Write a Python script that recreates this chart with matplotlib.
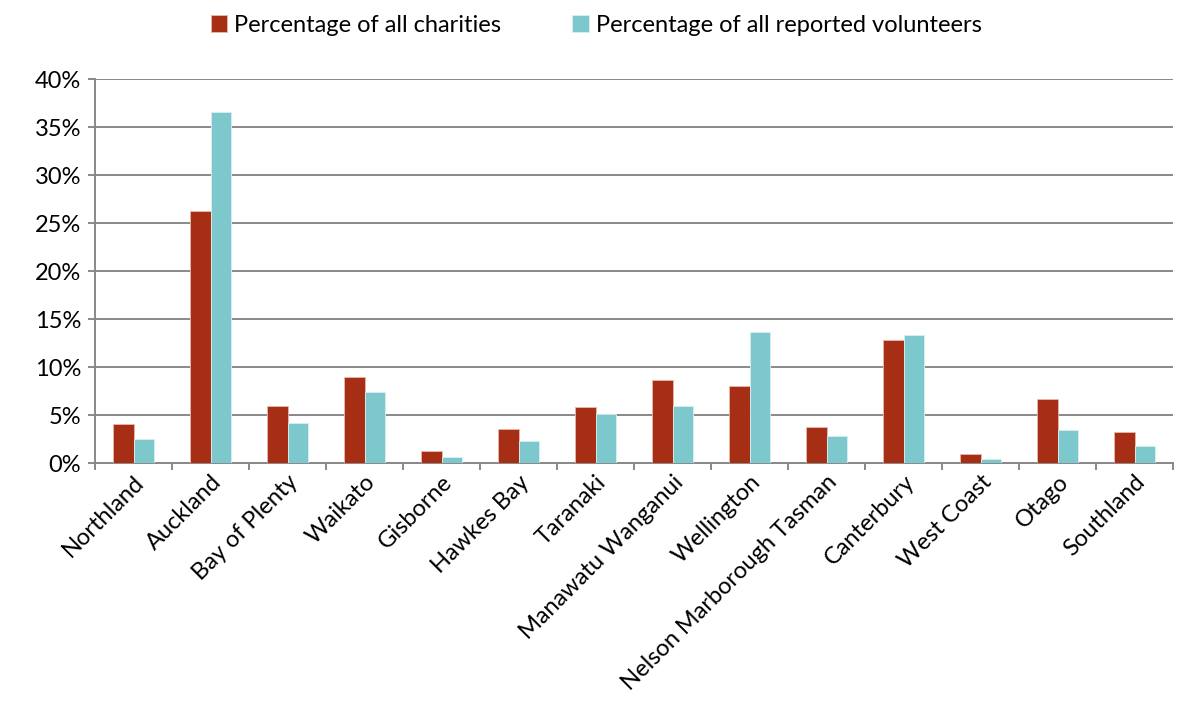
import matplotlib
matplotlib.use("Agg")
import matplotlib.pyplot as plt
import numpy as np

regions = ["Northland", "Auckland", "Bay of Plenty", "Waikato", "Gisborne", "Hawkes Bay",
           "Taranaki", "Manawatu Wanganui", "Wellington", "Nelson Marborough Tasman",
           "Canterbury", "West Coast", "Otago", "Southland"]
charities = [4.1, 26.3, 5.9, 9.0, 1.3, 3.5, 5.8, 8.6, 8.0, 3.8, 12.8, 0.9, 6.7, 3.2]
volunteers = [2.5, 36.6, 4.2, 7.4, 0.6, 2.3, 5.1, 5.9, 13.65, 2.8, 13.3, 0.4, 3.4, 1.75]

plt.rcParams['font.family'] = ['Lato', 'DejaVu Sans']
fig = plt.figure(figsize=(11.92, 7.12), dpi=100)
ax = fig.add_axes([95/1192, 1 - 463/712, (1173-95)/1192, (463-79)/712])

x = np.arange(len(regions))
w = 0.27
red = "#A52E14"
teal = "#7DC8CD"
ax.bar(x - w/2, charities, w, color=red, edgecolor="#E8B8AE", linewidth=0.6,
       label="Percentage of all charities", zorder=3)
ax.bar(x + w/2, volunteers, w, color=teal, edgecolor="#D8F0F2", linewidth=0.6,
       label="Percentage of all reported volunteers", zorder=3)

ax.set_xlim(-0.5, len(regions) - 0.5)
ax.set_ylim(0, 40)
ax.set_yticks(np.arange(0, 41, 5))
ax.set_yticklabels([f"{v}%" for v in range(0, 41, 5)], fontsize=17)
ax.yaxis.grid(True, color="#888888", linewidth=1.4, zorder=0)
ax.set_axisbelow(True)

ax.set_xticks(np.arange(-0.5, len(regions)), minor=False)
ax.set_xticklabels([])
ax.set_xticks(x, minor=True)
ax.set_xticklabels(regions, minor=True, rotation=45, ha='right', rotation_mode='anchor', fontsize=17)
ax.tick_params(axis='x', which='minor', length=0, pad=6)
ax.tick_params(axis='x', which='major', length=5, color="#888888", width=1.4)
ax.tick_params(axis='y', length=5, color="#888888", width=1.4, pad=5)

for s in ['top', 'right']:
    ax.spines[s].set_visible(False)
for s in ['left', 'bottom']:
    ax.spines[s].set_color("#888888")
    ax.spines[s].set_linewidth(1.4)

fig.legend(loc='center', bbox_to_anchor=(0.5, 1 - 25/712), ncol=2, frameon=False,
           fontsize=17, handlelength=0.7, handleheight=0.7, handletextpad=0.3, columnspacing=3)

fig.savefig("out.png", dpi=100)
